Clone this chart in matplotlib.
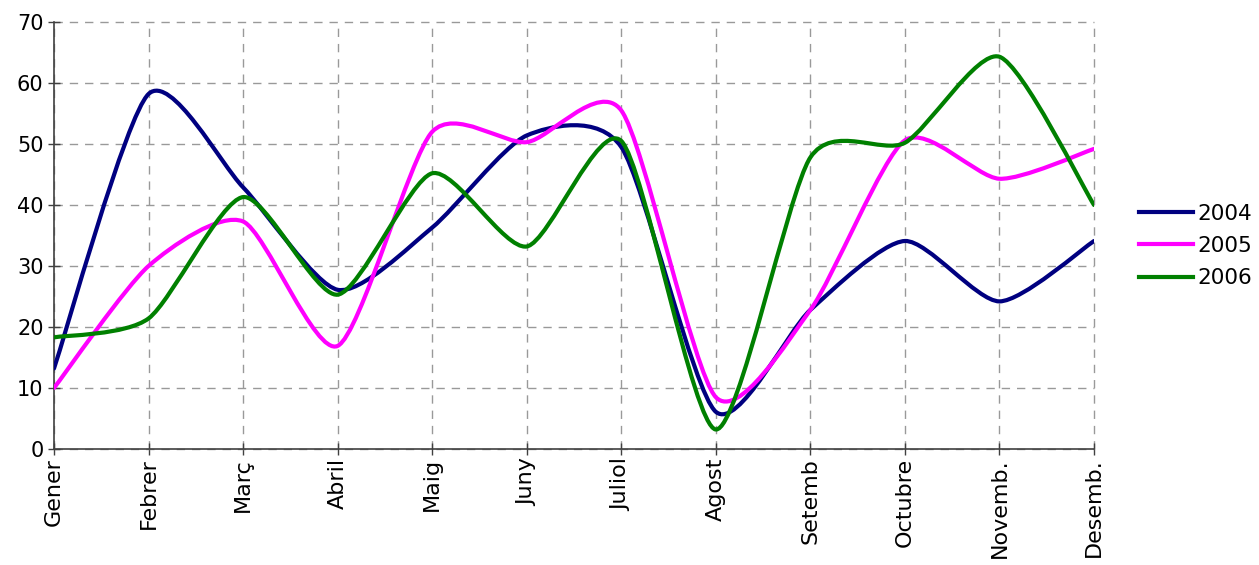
import matplotlib
matplotlib.use("Agg")
import matplotlib.pyplot as plt
from matplotlib.path import Path
from matplotlib.patches import PathPatch
from matplotlib.lines import Line2D

months = ["Gener", "Febrer", "Març", "Abril", "Maig", "Juny", "Juliol",
          "Agost", "Setemb", "Octubre", "Novemb.", "Desemb."]
s2004 = [13.2, 58.2, 42.9, 26.1, 36.3, 51.4, 49.5, 6.1, 22.8, 34.1, 24.2, 34.1]
s2005 = [10.0, 30.0, 37.3, 16.9, 52.0, 50.3, 55.5, 8.5, 22.8, 50.6, 44.3, 49.2]
s2006 = [18.3, 21.4, 41.3, 25.3, 45.2, 33.2, 50.5, 3.2, 47.8, 50.2, 64.3, 40.0]
series = [("2004", s2004, "#000080"), ("2005", s2005, "#FF00FF"), ("2006", s2006, "#008000")]
yticks = [0, 10, 20, 30, 40, 50, 60, 70]

plt.rcParams['font.family'] = ['DejaVu Sans']

fig = plt.figure(figsize=(12.59, 5.65), dpi=100)
ax = fig.add_axes([54/1259, 1-449/565, (1094-54)/1259, (449-22)/565])

TENSION = 0.12

def smooth_path(xs, ys):
    n = len(xs)
    verts = [(xs[0], ys[0])]
    codes = [Path.MOVETO]
    for i in range(n - 1):
        i0 = max(i - 1, 0)
        i3 = min(i + 2, n - 1)
        c1 = (xs[i] + (xs[i+1] - xs[i0]) * TENSION, ys[i] + (ys[i+1] - ys[i0]) * TENSION)
        c2 = (xs[i+1] - (xs[i3] - xs[i]) * TENSION, ys[i+1] - (ys[i3] - ys[i]) * TENSION)
        verts += [c1, c2, (xs[i+1], ys[i+1])]
        codes += [Path.CURVE4] * 3
    return Path(verts, codes)

x = list(range(len(months)))
handles = []
for name, vals, col in series:
    patch = PathPatch(smooth_path(x, vals), facecolor="none", edgecolor=col,
                      lw=3.0, capstyle="round", joinstyle="round", zorder=3)
    ax.add_patch(patch)
    handles.append(Line2D([], [], color=col, lw=3.0, label=name))

ax.set_xlim(0, len(months) - 1)
ax.set_ylim(0, 70)
ax.set_xticks(x)
ax.set_xticklabels(months, rotation=90, fontsize=16)
ax.set_yticks(yticks)
ax.set_yticklabels([str(v) for v in yticks], fontsize=15)
ax.tick_params(direction="inout", length=9, width=1.0, color="#404040", pad=3)
ax.tick_params(axis="x", pad=2)

ax.grid(True, color="#999999", linestyle=(0, (6, 5)), linewidth=1.0, zorder=0)
ax.set_axisbelow(True)
for gl in ax.get_xgridlines() + ax.get_ygridlines():
    gl.set_clip_on(False)
for s in ["top", "right"]:
    ax.spines[s].set_visible(False)
for s in ["left", "bottom"]:
    ax.spines[s].set_color("#404040")
    ax.spines[s].set_linewidth(1.2)

leg = fig.legend(handles=handles, loc="center left", bbox_to_anchor=(1128/1259, 1-246/565),
                 frameon=False, fontsize=15.5, handlelength=2.5, handletextpad=0.2,
                 labelspacing=0.58, borderpad=0)

fig.savefig("out.png", dpi=100)
